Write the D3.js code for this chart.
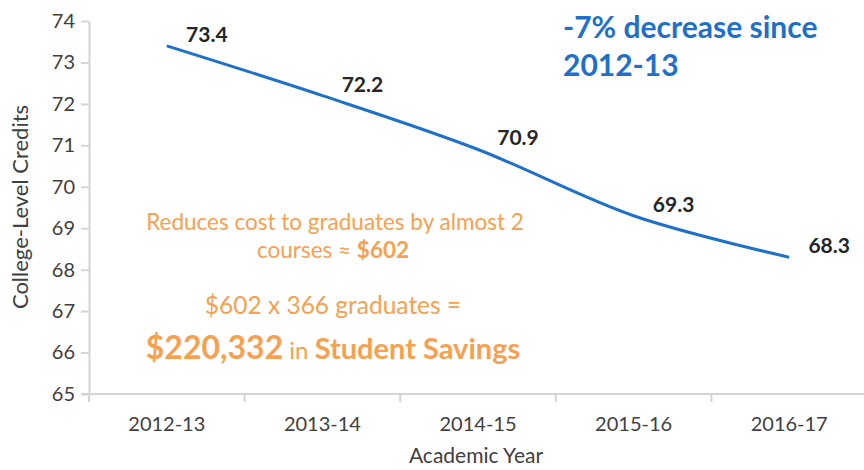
<!DOCTYPE html>
<html><head><meta charset="utf-8">
<script src="https://cdn.jsdelivr.net/npm/d3@7"></script>
<style>
html,body{margin:0;padding:0;background:#fff;}
svg{display:block;font-family:Lato,"Open Sans",sans-serif;}
</style></head>
<body><svg id="chart" width="864" height="470"></svg>
<script>
const categories = ["2012-13","2013-14","2014-15","2015-16","2016-17"];
const credits = [73.4, 72.2, 70.9, 69.3, 68.3];
const yTicks = [65,66,67,68,69,70,71,72,73,74];
const yLabel = "College-Level Credits";
const xLabel = "Academic Year";
const headline = ["-7% decrease since","2012-13"];
const note1 = ["Reduces cost to graduates by almost 2", "courses ≈ "];
const note1Bold = "$602";
const note2 = "$602 x 366 graduates =";
const note3 = ["$220,332", " in ", "Student Savings"];

const svg = d3.select("#chart");
const axisCol = "#d4d4d4", textCol = "#404040", blue = "#1f70c8", orange = "#f7a04f";

const x = d3.scaleBand().domain(categories).range([89, 867]).padding(0);
const y = d3.scaleLinear().domain([65, 74]).range([394, 21]);
const cx = d => x(d) + x.bandwidth()/2;

// y axis
const yAxis = svg.append("g").attr("transform","translate(89,0)")
  .call(d3.axisLeft(y).tickValues(yTicks).tickSize(8).tickSizeOuter(0).tickPadding(6).tickFormat(d3.format("d")));
yAxis.select(".domain").attr("stroke", axisCol).attr("stroke-width", 2);
yAxis.selectAll(".tick line").attr("stroke", axisCol).attr("stroke-width", 2);
yAxis.selectAll(".tick text").attr("fill", textCol).attr("font-size", 20).attr("font-family","Lato");

// x axis
const xAxis = svg.append("g").attr("transform","translate(0,394)")
  .call(d3.axisBottom(x).tickSize(0).tickPadding(23));
xAxis.select(".domain").remove();
xAxis.selectAll(".tick text").attr("fill", textCol).attr("font-size", 20).attr("font-family","Lato");
svg.append("line").attr("x1", 81).attr("x2", 864).attr("y1", 394).attr("y2", 394)
  .attr("stroke", axisCol).attr("stroke-width", 2);
svg.append("g").selectAll("line").data(categories).join("line")
  .attr("x1", d => x(d)).attr("x2", d => x(d)).attr("y1", 394).attr("y2", 402)
  .attr("stroke", axisCol).attr("stroke-width", 2);

// axis titles
svg.append("text").attr("x", 476).attr("y", 463).attr("text-anchor","middle")
  .attr("font-size", 21).attr("fill", textCol).text(xLabel);
svg.append("text").attr("transform","translate(28,207) rotate(-90)").attr("text-anchor","middle")
  .attr("font-size", 22).attr("fill", textCol).text(yLabel);

// line
const line = d3.line().x((d,i) => cx(categories[i])).y(d => y(d)).curve(d3.curveCardinal);
svg.append("path").datum(credits).attr("d", line).attr("fill","none")
  .attr("stroke", blue).attr("stroke-width", 3);

// data labels
svg.append("g").selectAll("text").data(credits).join("text")
  .attr("x", (d,i) => cx(categories[i]) + 40)
  .attr("y", d => y(d) - 4)
  .attr("text-anchor","middle").attr("font-weight","bold").attr("font-size", 21)
  .attr("fill", "#262626").text(d => d.toFixed(1));

// headline
svg.append("g").selectAll("text").data(headline).join("text")
  .attr("x", 563).attr("y", (d,i) => 38 + i*38)
  .attr("font-size", 30).attr("font-weight","bold").attr("fill", blue).text(d => d);

// orange notes
svg.append("text").attr("x", 335).attr("y", 230).attr("text-anchor","middle")
  .attr("font-size", 22.5).attr("fill", orange).text(note1[0]);
const t2 = svg.append("text").attr("x", 333).attr("y", 258).attr("text-anchor","middle")
  .attr("font-size", 22.5).attr("fill", orange);
t2.append("tspan").text(note1[1]);
t2.append("tspan").attr("font-weight","bold").text(note1Bold);
svg.append("text").attr("x", 333).attr("y", 314).attr("text-anchor","middle")
  .attr("font-size", 24.5).attr("fill", orange).text(note2);
const t3 = svg.append("text").attr("x", 333).attr("y", 359).attr("text-anchor","middle")
  .attr("fill", orange).attr("font-weight","bold");
t3.append("tspan").attr("font-size", 32).text(note3[0]);
t3.append("tspan").attr("font-size", 24).attr("font-weight","normal").text(note3[1]);
t3.append("tspan").attr("font-size", 29).text(note3[2]);
</script></body></html>
